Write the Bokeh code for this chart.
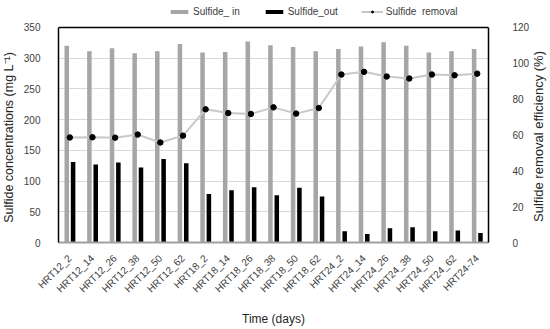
import math
from bokeh.plotting import figure
from bokeh.models import (ColumnDataSource, FactorRange, Range1d, LinearAxis,
                          Legend, LegendItem, FixedTicker, Grid, Label)
from bokeh.transform import dodge
from bokeh.embed import file_html
from bokeh.resources import INLINE

samples = ["HRT12_2", "HRT12_14", "HRT12_26", "HRT12_38", "HRT12_50", "HRT12_62",
           "HRT18_2", "HRT18_14", "HRT18_26", "HRT18_38", "HRT18_50", "HRT18_62",
           "HRT24_2", "HRT24_14", "HRT24_26", "HRT24_38", "HRT24_50", "HRT24_62",
           "HRT24-74"]
sulfide_in = [320, 311, 316, 308, 311, 323, 309, 310, 327, 321, 318, 311,
              315, 319, 326, 320, 309, 311, 315]
sulfide_out = [131, 127, 130, 122, 136, 129, 79, 85, 90, 77, 89, 75,
               18.5, 14, 23, 25, 18.5, 19.5, 15.5]
removal = [58.6, 58.7, 58.5, 60.2, 55.8, 59.6, 74.3, 72.2, 71.7, 75.4, 71.9, 75.0,
           93.7, 95.2, 92.6, 91.5, 93.7, 93.3, 94.2]
left_ticks = [0, 50, 100, 150, 200, 250, 300, 350]
right_ticks = [0, 20, 40, 60, 80, 100, 120]
left_max = 350
right_max = 120

# the frame extends a little above the plotted box so that the legend fits in it
HEADROOM = 10 / 9

src = ColumnDataSource(dict(x=samples, sin=sulfide_in, sout=sulfide_out, rem=removal))

FONT = "Liberation Sans"
TXT = "#404040"

p = figure(x_range=FactorRange(*samples), y_range=Range1d(0, left_max * HEADROOM),
           width=550, height=329, output_backend="svg", toolbar_location=None,
           min_border_left=58, min_border_right=62, min_border_top=3, min_border_bottom=86)
p.extra_y_ranges = {"eff": Range1d(0, right_max * HEADROOM)}

r_in = p.vbar(x=dodge("x", -0.135, range=p.x_range), top="sin", width=0.2, source=src,
              fill_color="#A6A6A6", line_color=None)
r_out = p.vbar(x=dodge("x", 0.145, range=p.x_range), top="sout", width=0.2, source=src,
               fill_color="black", line_color=None)
r_line = p.line(x="x", y="rem", source=src, y_range_name="eff", line_color="#C8C8C8", line_width=2)
r_dot = p.scatter(x="x", y="rem", source=src, y_range_name="eff", size=5.5,
                  fill_color="black", line_color="black")

p.outline_line_color = None
p.xgrid.grid_line_color = None
p.ygrid.grid_line_color = "#D9D9D9"
p.ygrid.grid_line_width = 1
# top edge of the box, at the axis maximum
p.add_layout(Grid(dimension=1, ticker=FixedTicker(ticks=[left_max]),
                  grid_line_color="black", grid_line_width=1.5))

p.yaxis.ticker = FixedTicker(ticks=left_ticks)
p.yaxis.bounds = (0, left_max)
p.xaxis.axis_label = "Time (days)"
p.xaxis.major_label_orientation = math.pi / 4

ax_r = LinearAxis(y_range_name="eff", ticker=FixedTicker(ticks=right_ticks),
                  bounds=(0, right_max))
p.add_layout(ax_r, "right")

for ax in [p.xaxis[0], p.yaxis[0], ax_r]:
    ax.major_tick_line_color = None
    ax.minor_tick_line_color = None
    ax.major_label_text_font = FONT
    ax.major_label_text_font_size = "10px"
    ax.major_label_text_color = TXT
    ax.axis_label_text_font = FONT
    ax.axis_label_text_font_style = "normal"
    ax.axis_label_text_color = "#262626"

p.yaxis[0].axis_line_color = "black"
p.yaxis[0].axis_line_width = 1.5
ax_r.axis_line_color = "black"
ax_r.axis_line_width = 1.5
p.xaxis[0].axis_line_color = "#A0A0A0"
p.xaxis[0].axis_line_width = 2

p.yaxis[0].major_label_standoff = 12
ax_r.major_label_standoff = 18
p.xaxis[0].major_label_standoff = 8
p.xaxis[0].axis_label_standoff = 11
p.xaxis[0].axis_label_text_font_size = "12px"

# axis titles centred on the plotted box, reading bottom to top
llab = Label(x=2, y=105, x_units="screen", y_units="screen",
             text="Sulfide concentrations (mg L\u207b\u00b9)", angle=math.pi / 2,
             text_align="center", text_baseline="middle",
             text_font=FONT, text_font_size="12.5px", text_color="#262626")
p.add_layout(llab, "left")
rlab = Label(x=6, y=106, x_units="screen", y_units="screen",
             text="Sulfide removal efficiency (%)", angle=math.pi / 2,
             text_align="center", text_baseline="middle",
             text_font=FONT, text_font_size="13px", text_color="#262626")
p.add_layout(rlab, "right")

legend = Legend(items=[LegendItem(label="Sulfide_ in", renderers=[r_in]),
                       LegendItem(label="Sulfide_out", renderers=[r_out]),
                       LegendItem(label="Sulfide  removal", renderers=[r_line, r_dot])],
                orientation="horizontal", location=(110, 225),
                padding=0, margin=0, spacing=23, glyph_width=22, glyph_height=5,
                label_height=10, label_standoff=3,
                label_text_font=FONT, label_text_font_size="10px", label_text_color=TXT,
                border_line_color=None, background_fill_alpha=0)
p.add_layout(legend, "center")

open("out.html", "w").write(file_html(p, INLINE))
